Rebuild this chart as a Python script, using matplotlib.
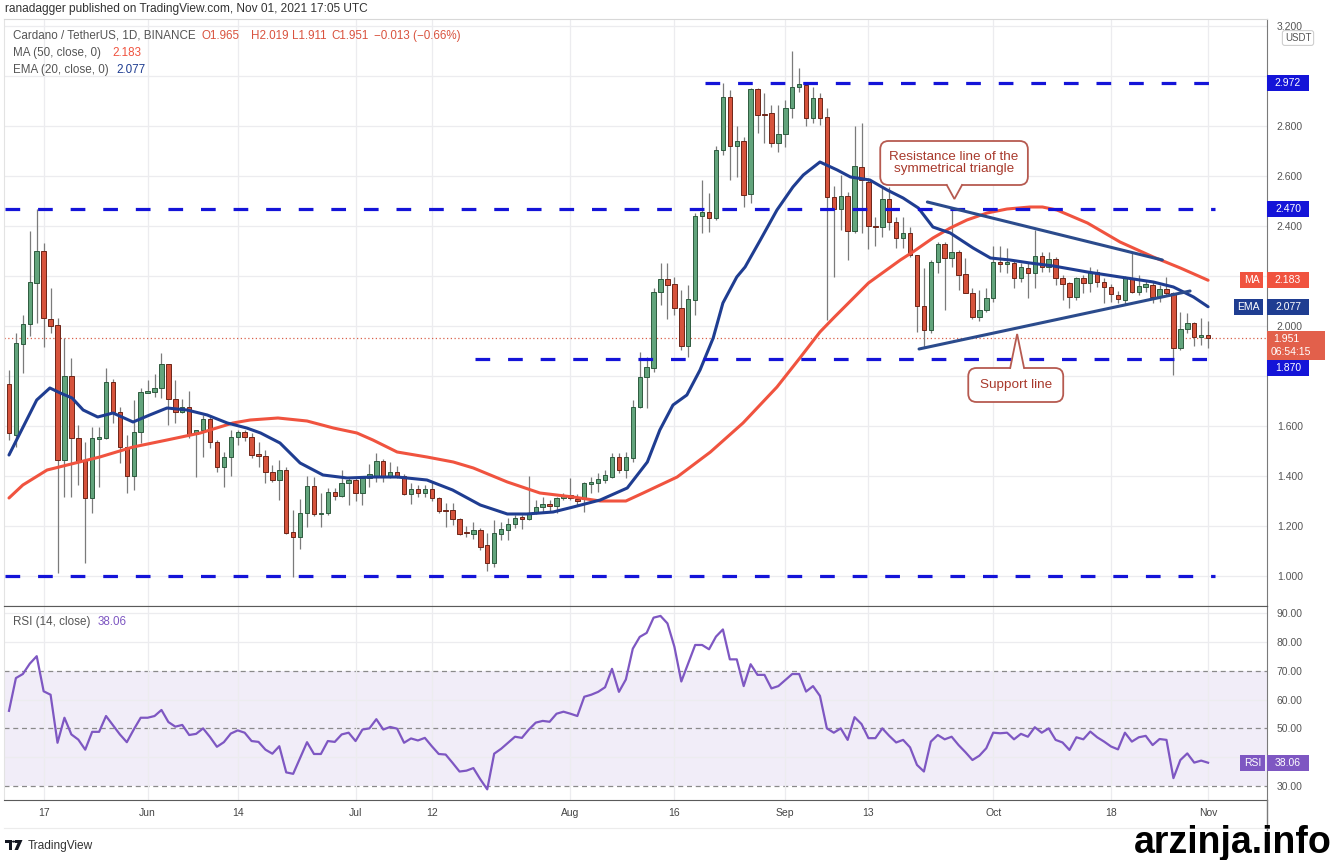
import numpy as np
import pandas as pd
import matplotlib
matplotlib.use('Agg')
import matplotlib.pyplot as plt
from matplotlib.patches import FancyBboxPatch, Rectangle, Polygon, Circle
from matplotlib.transforms import blended_transform_factory

plt.rcParams['font.family'] = ['Liberation Sans', 'DejaVu Sans']

# ---- data (ADA/USDT daily) ----
dates = pd.date_range('2021-05-12', '2021-11-01', freq='D')

opens = [1.768, 1.564, 1.928, 2.008, 2.172, 2.300, 2.028, 2.004, 1.464, 1.800,
         1.552, 1.460, 1.312, 1.548, 1.552, 1.776, 1.656, 1.516, 1.400, 1.576,
         1.732, 1.736, 1.752, 1.848, 1.708, 1.656, 1.676, 1.568, 1.584, 1.628,
         1.536, 1.436, 1.476, 1.556, 1.576, 1.556, 1.488, 1.480, 1.416, 1.384,
         1.424, 1.176, 1.156, 1.252, 1.360, 1.248, 1.252, 1.336, 1.320, 1.372,
         1.384, 1.332, 1.392, 1.400, 1.460, 1.400, 1.416, 1.400, 1.328, 1.348,
         1.332, 1.348, 1.312, 1.264, 1.264, 1.228, 1.176, 1.168, 1.184, 1.124,
         1.052, 1.168, 1.184, 1.208, 1.236, 1.228, 1.252, 1.276, 1.288, 1.280,
         1.312, 1.324, 1.310, 1.308, 1.368, 1.372, 1.384, 1.396, 1.476, 1.424,
         1.472, 1.676, 1.796, 1.832, 2.136, 2.188, 2.168, 2.072, 1.920, 2.104,
         2.440, 2.456, 2.432, 2.704, 2.916, 2.720, 2.740, 2.528, 2.948, 2.848,
         2.852, 2.732, 2.768, 2.872, 2.956, 2.964, 2.832, 2.912, 2.836, 2.516,
         2.468, 2.520, 2.380, 2.636, 2.576, 2.400, 2.396, 2.508, 2.416, 2.352,
         2.372, 2.284, 2.080, 1.984, 2.256, 2.328, 2.272, 2.296, 2.208, 2.132,
         2.036, 2.064, 2.112, 2.256, 2.248, 2.252, 2.192, 2.232, 2.212, 2.280,
         2.236, 2.268, 2.192, 2.172, 2.116, 2.192, 2.172, 2.216, 2.176, 2.156,
         2.124, 2.104, 2.192, 2.136, 2.156, 2.164, 2.116, 2.148, 2.132, 1.912,
         1.988, 2.012, 1.956, 1.965]
highs = [1.824, 1.972, 2.044, 2.380, 2.468, 2.332, 2.152, 2.032, 1.952, 1.872,
         1.604, 1.536, 1.596, 1.596, 1.832, 1.788, 1.676, 1.564, 1.704, 1.752,
         1.784, 1.808, 1.892, 1.848, 1.784, 1.708, 1.740, 1.584, 1.644, 1.644,
         1.544, 1.496, 1.584, 1.584, 1.584, 1.572, 1.536, 1.504, 1.444, 1.464,
         1.436, 1.264, 1.308, 1.400, 1.396, 1.332, 1.352, 1.352, 1.424, 1.392,
         1.396, 1.396, 1.448, 1.492, 1.468, 1.456, 1.440, 1.408, 1.372, 1.364,
         1.364, 1.376, 1.316, 1.292, 1.292, 1.232, 1.200, 1.216, 1.192, 1.172,
         1.224, 1.216, 1.232, 1.244, 1.244, 1.400, 1.304, 1.316, 1.304, 1.316,
         1.332, 1.392, 1.330, 1.376, 1.396, 1.412, 1.424, 1.492, 1.492, 1.496,
         1.704, 1.896, 1.876, 2.152, 2.252, 2.252, 2.196, 2.144, 2.164, 2.452,
         2.584, 2.532, 2.720, 2.972, 2.944, 2.800, 2.756, 2.952, 2.952, 2.932,
         2.884, 2.884, 2.904, 3.100, 3.032, 2.972, 2.956, 2.932, 2.872, 2.560,
         2.604, 2.536, 2.800, 2.812, 2.592, 2.436, 2.560, 2.556, 2.436, 2.436,
         2.396, 2.284, 2.232, 2.264, 2.336, 2.336, 2.468, 2.304, 2.272, 2.152,
         2.144, 2.152, 2.320, 2.320, 2.312, 2.264, 2.252, 2.252, 2.384, 2.296,
         2.296, 2.276, 2.204, 2.176, 2.196, 2.204, 2.236, 2.228, 2.192, 2.168,
         2.140, 2.200, 2.292, 2.204, 2.184, 2.176, 2.164, 2.196, 2.136, 2.056,
         2.052, 2.016, 2.032, 2.019]
lows = [1.544, 1.516, 1.812, 1.960, 2.012, 1.916, 1.972, 1.012, 1.316, 1.316,
        1.364, 1.052, 1.252, 1.356, 1.548, 1.612, 1.452, 1.332, 1.344, 1.532,
        1.732, 1.716, 1.712, 1.604, 1.612, 1.652, 1.552, 1.396, 1.476, 1.512,
        1.416, 1.356, 1.400, 1.524, 1.540, 1.472, 1.436, 1.372, 1.376, 1.304,
        1.168, 0.996, 1.108, 1.196, 1.240, 1.196, 1.244, 1.304, 1.316, 1.284,
        1.300, 1.284, 1.356, 1.376, 1.376, 1.392, 1.392, 1.324, 1.288, 1.316,
        1.316, 1.300, 1.252, 1.196, 1.204, 1.164, 1.156, 1.148, 1.104, 1.020,
        1.036, 1.144, 1.144, 1.192, 1.188, 1.224, 1.248, 1.256, 1.256, 1.252,
        1.304, 1.304, 1.280, 1.256, 1.332, 1.336, 1.372, 1.392, 1.412, 1.392,
        1.456, 1.672, 1.672, 1.816, 2.084, 2.028, 2.044, 1.904, 1.876, 2.044,
        2.372, 2.376, 2.424, 2.684, 2.584, 2.596, 2.476, 2.492, 2.772, 2.732,
        2.716, 2.696, 2.716, 2.832, 2.936, 2.800, 2.812, 2.804, 2.024, 2.196,
        2.384, 2.264, 2.372, 2.372, 2.308, 2.320, 2.356, 2.384, 2.312, 2.312,
        2.276, 1.976, 1.916, 1.972, 2.212, 2.064, 2.236, 2.144, 2.132, 2.028,
        2.020, 2.056, 2.096, 2.216, 2.212, 2.152, 2.176, 2.112, 2.152, 2.216,
        2.216, 2.164, 2.104, 2.072, 2.104, 2.132, 2.136, 2.156, 2.092, 2.096,
        2.092, 2.088, 2.132, 2.124, 2.136, 2.092, 2.096, 2.124, 1.804, 1.904,
        1.972, 1.920, 1.924, 1.911]
closes = [1.572, 1.932, 2.008, 2.176, 2.300, 2.032, 2.000, 1.464, 1.800, 1.552,
          1.460, 1.312, 1.552, 1.556, 1.776, 1.656, 1.516, 1.400, 1.576, 1.736,
          1.740, 1.752, 1.848, 1.708, 1.656, 1.676, 1.568, 1.584, 1.628, 1.536,
          1.436, 1.476, 1.556, 1.576, 1.556, 1.484, 1.480, 1.416, 1.384, 1.424,
          1.172, 1.156, 1.252, 1.360, 1.248, 1.252, 1.336, 1.320, 1.372, 1.384,
          1.332, 1.392, 1.408, 1.460, 1.400, 1.416, 1.396, 1.328, 1.348, 1.332,
          1.348, 1.312, 1.260, 1.260, 1.228, 1.168, 1.172, 1.184, 1.116, 1.052,
          1.172, 1.188, 1.208, 1.232, 1.228, 1.252, 1.276, 1.288, 1.280, 1.312,
          1.324, 1.312, 1.300, 1.372, 1.376, 1.388, 1.404, 1.476, 1.424, 1.476,
          1.676, 1.796, 1.836, 2.136, 2.188, 2.164, 2.072, 1.920, 2.108, 2.440,
          2.456, 2.432, 2.704, 2.916, 2.720, 2.740, 2.524, 2.948, 2.844, 2.844,
          2.732, 2.768, 2.872, 2.956, 2.968, 2.832, 2.912, 2.832, 2.516, 2.468,
          2.520, 2.380, 2.640, 2.584, 2.400, 2.396, 2.508, 2.416, 2.352, 2.372,
          2.284, 2.080, 1.984, 2.256, 2.328, 2.272, 2.296, 2.204, 2.132, 2.036,
          2.064, 2.112, 2.256, 2.248, 2.252, 2.192, 2.236, 2.212, 2.280, 2.236,
          2.268, 2.192, 2.168, 2.116, 2.192, 2.172, 2.216, 2.176, 2.156, 2.128,
          2.108, 2.192, 2.136, 2.160, 2.168, 2.116, 2.148, 2.132, 1.912, 1.988,
          2.012, 1.956, 1.964, 1.951]

# EMA(20) and MA(50) (day offset, value)
ema_day = [0, 1.6, 4, 5.9, 7.4, 9.1, 10.7, 12.8, 15, 17.9, 20.3, 22.8, 25.7, 28.6,
           31.5, 34.3, 36.3, 39.1, 42, 45.3, 48.8, 52.5, 56, 60.3, 64, 68, 71.9,
           74.7, 78.5, 81.4, 85.3, 89.2, 92.1, 93.9, 95.8, 97.8, 99.7, 101.6, 103,
           105, 106.2, 108.4, 110.8, 113.1, 114.6, 117, 119.5, 121.4, 124.2, 126.7,
           129, 131.2, 133.3, 135.8, 139.1, 141.6, 144.4, 147.3, 150.7, 155.6,
           160.3, 165.1, 168, 170.9, 173]
ema_val = [1.484, 1.572, 1.704, 1.752, 1.732, 1.712, 1.664, 1.636, 1.652, 1.616,
           1.644, 1.672, 1.664, 1.644, 1.612, 1.592, 1.572, 1.532, 1.452, 1.404,
           1.392, 1.396, 1.396, 1.384, 1.344, 1.284, 1.248, 1.248, 1.256, 1.276,
           1.304, 1.352, 1.456, 1.584, 1.684, 1.724, 1.824, 1.952, 2.092, 2.196,
           2.236, 2.344, 2.464, 2.556, 2.604, 2.656, 2.624, 2.596, 2.584, 2.544,
           2.512, 2.472, 2.396, 2.372, 2.312, 2.272, 2.264, 2.252, 2.240, 2.216,
           2.196, 2.176, 2.156, 2.116, 2.077]
ma_day = [0, 2, 5.5, 8.4, 13.1, 17.9, 22.8, 27.6, 32.3, 34.8, 38.8, 43, 46.8, 50.2,
          52.5, 56, 60.3, 64.1, 67, 71.9, 76.6, 81.4, 85.3, 89, 91.5, 96.4, 101.2,
          105.9, 110.8, 114.1, 117, 119.1, 124, 128.6, 130.4, 133.3, 135.8, 138.2,
          141.1, 144, 147.3, 149.1, 151.2, 155.6, 160.3, 165.1, 169, 173]
ma_val = [1.312, 1.364, 1.424, 1.444, 1.476, 1.516, 1.544, 1.572, 1.612, 1.624,
          1.632, 1.620, 1.592, 1.572, 1.544, 1.496, 1.476, 1.456, 1.432, 1.376,
          1.332, 1.316, 1.300, 1.300, 1.332, 1.396, 1.496, 1.612, 1.756, 1.872,
          1.976, 2.036, 2.172, 2.264, 2.296, 2.352, 2.392, 2.424, 2.452, 2.468,
          2.476, 2.476, 2.464, 2.412, 2.336, 2.276, 2.232, 2.183]

rsi_vals = [56.1, 67.5, 68.9, 72.5, 75.1, 62.9, 61.7, 45.0, 53.7, 47.9,
            46.1, 42.6, 48.8, 48.8, 54.3, 51.1, 47.9, 45.2, 49.6, 53.7,
            53.7, 54.3, 56.4, 52.2, 50.6, 51.2, 47.7, 48.1, 50.0, 47.0,
            43.6, 45.2, 48.2, 49.3, 48.5, 45.6, 45.3, 42.6, 41.2, 43.8,
            34.7, 34.2, 39.7, 45.2, 41.1, 41.1, 45.6, 45.3, 47.9, 48.5,
            45.6, 49.6, 50.0, 53.2, 49.6, 50.5, 49.9, 45.0, 46.5, 45.8,
            46.7, 43.8, 41.1, 40.9, 38.0, 35.0, 35.3, 36.2, 32.3, 28.8,
            41.2, 42.9, 45.0, 47.1, 46.7, 49.6, 52.0, 52.6, 52.3, 55.1,
            55.8, 55.1, 54.3, 61.0, 61.7, 62.7, 64.3, 70.7, 62.7, 67.0,
            77.7, 81.8, 83.2, 88.5, 89.1, 86.5, 78.4, 66.3, 72.6, 79.0,
            79.0, 77.5, 81.9, 84.4, 74.0, 74.0, 64.7, 72.3, 68.6, 68.6,
            63.9, 64.7, 66.8, 68.9, 68.9, 62.8, 64.7, 61.3, 50.0, 48.5,
            50.0, 46.0, 53.9, 51.5, 46.6, 46.6, 50.0, 47.4, 45.1, 46.0,
            43.4, 37.3, 35.0, 45.4, 47.7, 46.2, 47.1, 44.2, 41.7, 39.0,
            40.5, 43.1, 48.5, 48.3, 48.5, 46.2, 48.1, 47.1, 50.4, 48.5,
            50.0, 46.0, 45.1, 42.5, 46.9, 46.2, 48.9, 46.9, 45.4, 43.7,
            42.7, 48.5, 45.4, 46.9, 47.4, 44.2, 46.3, 46.0, 32.7, 39.0,
            41.3, 38.1, 38.8, 38.06]

# horizontal levels drawn by the author: value, start day offset
level_val = [2.972, 2.470, 1.870, 1.000]
level_start = [100.4, -0.6, 67.2, -0.6]
level_end = 174.0

# symmetrical triangle lines (day offset, price)
res_day, res_val = [132.5, 166.4], [2.496, 2.264]
sup_day, sup_val = [131.3, 170.4], [1.908, 2.140]

tick_dates = ['2021-05-17', '2021-06-01', '2021-06-14', '2021-07-01', '2021-07-12',
              '2021-08-01', '2021-08-16', '2021-09-01', '2021-09-13', '2021-10-01',
              '2021-10-18', '2021-11-01']
tick_labels = ['17', 'Jun', '14', 'Jul', '12', 'Aug', '16', 'Sep', '13', 'Oct', '18', 'Nov']

price_ticks = [1.0, 1.2, 1.4, 1.6, 2.0, 2.4, 2.6, 2.8, 3.2]   # the rest sit under badges
price_grid = [1.0, 1.2, 1.4, 1.6, 1.8, 2.0, 2.2, 2.4, 2.6, 2.8, 3.0, 3.2]
rsi_ticks = [30, 50, 60, 70, 80, 90]

last_price = 1.951
ma_last, ema_last, rsi_last = 2.183, 2.077, 38.06

# ---- colours ----
GREEN, GREEN_EDGE = '#62a47c', '#2e5b3f'
RED, RED_EDGE = '#d6533c', '#6e2518'
EMA_C, MA_C = '#1f3d91', '#f0533f'
LEVEL_C = '#1414d8'
RSI_C = '#7e57c2'
GRID_C = '#ececef'
TXT = '#555555'

W, H = 1335, 860
fig = plt.figure(figsize=(W / 100, H / 100), dpi=100)
fig.patch.set_facecolor('white')

def fx(px):
    return px / W

def fy(py):
    return 1 - py / H

ax = fig.add_axes([fx(4), fy(606), fx(1263), 587 / H])
rsi = fig.add_axes([fx(4), fy(800), fx(1263), 194 / H], sharex=ax)

x = np.arange(len(dates))
o, h, l, c = map(np.array, (opens, highs, lows, closes))
up = c >= o
body_lo = np.minimum(o, c)
body_h = np.maximum(np.abs(c - o), 0.006)

# candles
ax.vlines(x, l, h, color='#7b7b7b', lw=0.9, zorder=3)
ax.bar(x[up], body_h[up], 0.64, bottom=body_lo[up], color=GREEN,
       edgecolor=GREEN_EDGE, lw=0.7, zorder=4)
ax.bar(x[~up], body_h[~up], 0.64, bottom=body_lo[~up], color=RED,
       edgecolor=RED_EDGE, lw=0.7, zorder=4)

# moving averages
ax.plot(ma_day, ma_val, color=MA_C, lw=2.2, zorder=5, solid_capstyle='round')
ax.plot(ema_day, ema_val, color=EMA_C, lw=2.2, zorder=5, solid_capstyle='round')

# author levels
for v, s in zip(level_val, level_start):
    ax.plot([s, level_end], [v, v], color=LEVEL_C, lw=2.3, dashes=(4.6, 5.6), zorder=6)

# triangle
ax.plot(res_day, res_val, color='#2b4b8c', lw=2.2, zorder=6, solid_capstyle='round')
ax.plot(sup_day, sup_val, color='#2b4b8c', lw=2.2, zorder=6, solid_capstyle='round')

# last price dotted line
ax.axhline(last_price, color='#d9604a', lw=0.9, ls=(0, (1, 2)), zorder=2)

# callouts
BOX_EC, BOX_TXT = '#b65a50', '#a8392c'
asp = 6.93 / 250

def callout(x0, x1, y0, y1, tipx, tipy, base_y, half, text):
    box = FancyBboxPatch((x0, y0), x1 - x0, y1 - y0,
                         boxstyle='round,pad=0,rounding_size=1.2',
                         mutation_aspect=asp, fc='white', ec=BOX_EC, lw=1.3, zorder=8)
    ax.add_patch(box)
    inner = 0.006 if tipy < base_y else -0.006
    ax.add_patch(Polygon([(tipx - half, base_y + inner), (tipx + half, base_y + inner),
                          (tipx, tipy)], closed=True, fc='white', ec='none', zorder=9))
    ax.plot([tipx - half, tipx, tipx + half], [base_y, tipy, base_y], color=BOX_EC,
            lw=1.3, zorder=9, solid_joinstyle='miter')
    ax.text((x0 + x1) / 2, (y0 + y1) / 2, text, ha='center', va='center',
            fontsize=9.7, color=BOX_TXT, zorder=10, linespacing=1.0)

callout(125.7, 147.0, 2.564, 2.740, 136.4, 2.508, 2.564, 1.1,
        'Resistance line of the\nsymmetrical triangle')
callout(138.4, 152.1, 1.696, 1.832, 145.45, 1.968, 1.832, 1.0, 'Support line')

# axes styling
ax.set_xlim(-0.72, 181.5)
ax.set_ylim(0.88, 3.228)
ax.yaxis.tick_right()
ax.set_yticks(price_grid)
ax.set_yticklabels(['%.3f' % v if v in price_ticks else '' for v in price_grid])
ax.tick_params(axis='y', length=0, pad=7, labelsize=7.5, labelcolor=TXT)
ax.tick_params(axis='x', length=0, labelbottom=False)
tick_pos = [dates.get_loc(pd.Timestamp(d)) for d in tick_dates]
ax.set_xticks(tick_pos)
ax.grid(True, color=GRID_C, lw=0.9, zorder=0)
for sp, col in (('left', '#e3e3e3'), ('top', '#d8d8d8'), ('right', '#7a7a7a'), ('bottom', '#5a5a5a')):
    ax.spines[sp].set_color(col)

# RSI panel
rsi.axhspan(30, 70, color=RSI_C, alpha=0.1, lw=0, zorder=0)
for lv in (30, 50, 70):
    rsi.axhline(lv, color='#8a8a8a', lw=0.9, dashes=(4, 3), zorder=1)
rsi.plot(x, rsi_vals, color=RSI_C, lw=1.6, zorder=4)
rsi.set_ylim(25.1, 92.55)
rsi.yaxis.tick_right()
rsi.set_yticks(rsi_ticks)
rsi.set_yticklabels(['%.2f' % v for v in rsi_ticks])
rsi.tick_params(axis='y', length=0, pad=7, labelsize=7.5, labelcolor=TXT)
rsi.set_xticks(tick_pos)
rsi.set_xticklabels(tick_labels)
rsi.tick_params(axis='x', length=0, pad=6, labelsize=7.5, labelcolor='#444444')
rsi.grid(True, axis='x', color=GRID_C, lw=0.9, zorder=0)
for lv in (40, 60, 80, 90):
    rsi.axhline(lv, color=GRID_C, lw=0.9, zorder=0)
for sp, col in (('left', '#e3e3e3'), ('top', '#5a5a5a'), ('right', '#7a7a7a'), ('bottom', '#5a5a5a')):
    rsi.spines[sp].set_color(col)

# right-hand badges
def badge(axis, x0, x1, y, hgt, text, fc, fs=7.5, ty=None):
    tr = blended_transform_factory(axis.transAxes, axis.transData)
    axis.add_patch(Rectangle((x0, y - hgt / 2), x1 - x0, hgt, transform=tr, fc=fc,
                             ec='none', clip_on=False, zorder=20))
    axis.text((x0 + x1) / 2, y, text, transform=tr, ha='center', va='center',
              color='white', fontsize=fs, zorder=21, clip_on=False)

def afx(px):
    return (px - 4) / 1263

badge(ax, afx(1267), afx(1309), level_val[0], 0.064, '%.3f' % level_val[0], LEVEL_C)
badge(ax, afx(1267), afx(1309), level_val[1], 0.064, '%.3f' % level_val[1], LEVEL_C)
# the 1.870 badge is pushed down below the last-price badge, as in the reference
badge(ax, afx(1267), afx(1309), level_val[2] - 0.038, 0.064, '%.3f' % level_val[2], LEVEL_C)
badge(ax, afx(1240), afx(1263), ma_last, 0.064, 'MA', MA_C)
badge(ax, afx(1267), afx(1309), ma_last, 0.064, '%.3f' % ma_last, MA_C)
badge(ax, afx(1234), afx(1263), ema_last, 0.064, 'EMA', EMA_C)
badge(ax, afx(1267), afx(1309), ema_last, 0.064, '%.3f' % ema_last, EMA_C)

tr = blended_transform_factory(ax.transAxes, ax.transData)
ax.add_patch(Rectangle((afx(1267), 1.866), afx(1325) - afx(1267), 0.116, transform=tr,
                       fc='#e2604b', ec='none', clip_on=False, zorder=20))
ax.text(afx(1273), 1.950, '%.3f' % last_price, transform=tr, ha='left', va='center',
        color='white', fontsize=7.5, zorder=21, clip_on=False)
ax.text(afx(1271), 1.896, '06:54:15', transform=tr, ha='left', va='center',
        color='white', fontsize=7.5, zorder=21, clip_on=False)

badge(rsi, afx(1240), afx(1265), rsi_last, 5.6, 'RSI', RSI_C)
badge(rsi, afx(1267), afx(1309), rsi_last, 5.6, '%.2f' % rsi_last, RSI_C)

# USDT unit box
fig.text(fx(1298), fy(38), 'USDT', ha='center', va='center', fontsize=7, color=TXT,
         bbox=dict(boxstyle='round,pad=0.25', fc='white', ec='#cfcfcf', lw=0.8), zorder=30)

# header / legends
fig.text(fx(5), fy(9), 'ranadagger published on TradingView.com, Nov 01, 2021 17:05 UTC',
         fontsize=8.6, color='#333333', va='center')
LEG_RED = '#d9533f'
fig.text(fx(13), fy(36), 'Cardano / TetherUS, 1D, BINANCE', fontsize=8.4, color=TXT, va='center')
for xp, t in ((201, 'O1.965'), (251, 'H2.019'), (292, 'L1.911'), (331, 'C1.951'),
              (374, '\u22120.013 (\u22120.66%)')):
    fig.text(fx(xp), fy(36), t, fontsize=8.4, color=LEG_RED, va='center')
fig.text(fx(13), fy(53), 'MA (50, close, 0)', fontsize=8.4, color=TXT, va='center')
fig.text(fx(112), fy(53), '%.3f' % ma_last, fontsize=8.4, color=MA_C, va='center')
fig.text(fx(13), fy(70), 'EMA (20, close, 0)', fontsize=8.4, color=TXT, va='center')
fig.text(fx(116), fy(70), '%.3f' % ema_last, fontsize=8.4, color=EMA_C, va='center')
fig.text(fx(13), fy(622), 'RSI (14, close)', fontsize=8.4, color=TXT, va='center')
fig.text(fx(98), fy(622), '%.2f' % rsi_last, fontsize=8.4, color=RSI_C, va='center')

# right axis line continues through the time scale, thin frame under it
fig.add_artist(plt.Line2D([fx(1267), fx(1267)], [fy(830), fy(800)],
                          transform=fig.transFigure, color='#7a7a7a', lw=1))
fig.add_artist(plt.Line2D([fx(4), fx(1267)], [fy(828), fy(828)],
                          transform=fig.transFigure, color='#ececec', lw=0.8))

# footer: TradingView logo + name, watermark
logo_c = '#131722'
for poly in ([(5, 840), (12, 840), (12, 850), (9, 850), (9, 843), (5, 843)],
             [(15, 840), (22.5, 840), (18, 850), (14.5, 850), (17.5, 843), (15, 843)]):
    fig.add_artist(Polygon([(fx(px), fy(py)) for px, py in poly], closed=True,
                           transform=fig.transFigure, fc=logo_c, ec='none'))
fig.add_artist(Circle((fx(13.6), fy(841.6)), 1.6 / W, transform=fig.transFigure,
                      fc=logo_c, ec='none'))
fig.text(fx(28), fy(846), 'TradingView', fontsize=8.6, color='#333333', va='center')
fig.text(fx(1332), fy(843), 'arzinja.info', fontsize=27, fontweight='bold',
         color='black', ha='right', va='center')

fig.savefig('out.png', dpi=100)
